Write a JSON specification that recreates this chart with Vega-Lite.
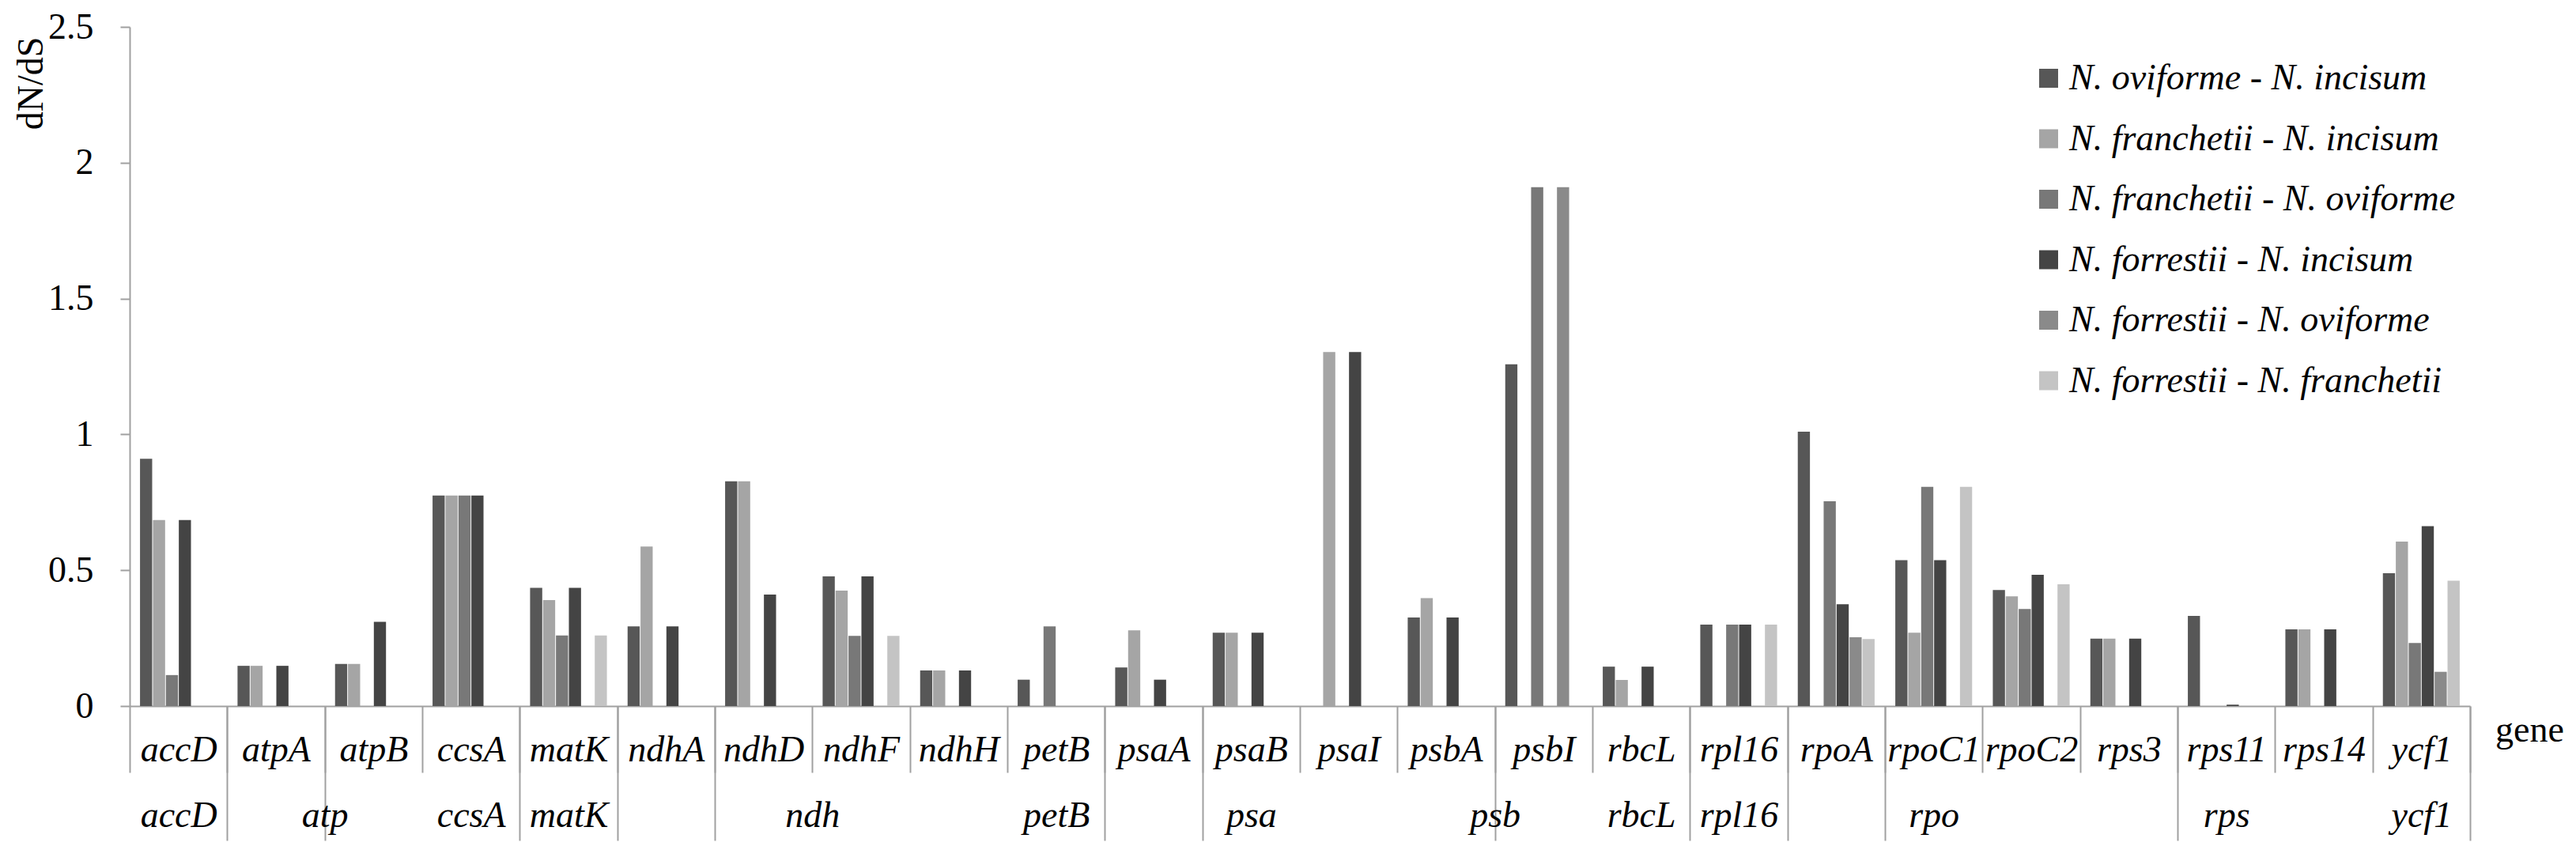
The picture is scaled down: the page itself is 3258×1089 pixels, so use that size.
{
  "$schema": "https://vega.github.io/schema/vega-lite/v6.json",
  "width": 2960,
  "height": 859,
  "autosize": "none",
  "padding": {"left": 164, "top": 34, "right": 134, "bottom": 196},
  "background": "white",
  "config": {"view": {"stroke": null}, "font": "Liberation Serif"},
  "data": {"values": [
    {"gene":"accD","group":"accD","pair":"N. oviforme - N. incisum","dNdS":0.91},
    {"gene":"accD","group":"accD","pair":"N. franchetii - N. incisum","dNdS":0.685},
    {"gene":"accD","group":"accD","pair":"N. franchetii - N. oviforme","dNdS":0.114},
    {"gene":"accD","group":"accD","pair":"N. forrestii - N. incisum","dNdS":0.685},
    {"gene":"atpA","group":"atp","pair":"N. oviforme - N. incisum","dNdS":0.148},
    {"gene":"atpA","group":"atp","pair":"N. franchetii - N. incisum","dNdS":0.148},
    {"gene":"atpA","group":"atp","pair":"N. forrestii - N. incisum","dNdS":0.148},
    {"gene":"atpB","group":"atp","pair":"N. oviforme - N. incisum","dNdS":0.155},
    {"gene":"atpB","group":"atp","pair":"N. franchetii - N. incisum","dNdS":0.155},
    {"gene":"atpB","group":"atp","pair":"N. forrestii - N. incisum","dNdS":0.31},
    {"gene":"ccsA","group":"ccsA","pair":"N. oviforme - N. incisum","dNdS":0.775},
    {"gene":"ccsA","group":"ccsA","pair":"N. franchetii - N. incisum","dNdS":0.775},
    {"gene":"ccsA","group":"ccsA","pair":"N. franchetii - N. oviforme","dNdS":0.775},
    {"gene":"ccsA","group":"ccsA","pair":"N. forrestii - N. incisum","dNdS":0.775},
    {"gene":"matK","group":"matK","pair":"N. oviforme - N. incisum","dNdS":0.435},
    {"gene":"matK","group":"matK","pair":"N. franchetii - N. incisum","dNdS":0.39},
    {"gene":"matK","group":"matK","pair":"N. franchetii - N. oviforme","dNdS":0.26},
    {"gene":"matK","group":"matK","pair":"N. forrestii - N. incisum","dNdS":0.435},
    {"gene":"matK","group":"matK","pair":"N. forrestii - N. franchetii","dNdS":0.26},
    {"gene":"ndhA","group":"ndh","pair":"N. oviforme - N. incisum","dNdS":0.293},
    {"gene":"ndhA","group":"ndh","pair":"N. franchetii - N. incisum","dNdS":0.587},
    {"gene":"ndhA","group":"ndh","pair":"N. forrestii - N. incisum","dNdS":0.293},
    {"gene":"ndhD","group":"ndh","pair":"N. oviforme - N. incisum","dNdS":0.827},
    {"gene":"ndhD","group":"ndh","pair":"N. franchetii - N. incisum","dNdS":0.827},
    {"gene":"ndhD","group":"ndh","pair":"N. forrestii - N. incisum","dNdS":0.41},
    {"gene":"ndhF","group":"ndh","pair":"N. oviforme - N. incisum","dNdS":0.477},
    {"gene":"ndhF","group":"ndh","pair":"N. franchetii - N. incisum","dNdS":0.425},
    {"gene":"ndhF","group":"ndh","pair":"N. franchetii - N. oviforme","dNdS":0.258},
    {"gene":"ndhF","group":"ndh","pair":"N. forrestii - N. incisum","dNdS":0.477},
    {"gene":"ndhF","group":"ndh","pair":"N. forrestii - N. franchetii","dNdS":0.258},
    {"gene":"ndhH","group":"ndh","pair":"N. oviforme - N. incisum","dNdS":0.131},
    {"gene":"ndhH","group":"ndh","pair":"N. franchetii - N. incisum","dNdS":0.131},
    {"gene":"ndhH","group":"ndh","pair":"N. forrestii - N. incisum","dNdS":0.131},
    {"gene":"petB","group":"petB","pair":"N. oviforme - N. incisum","dNdS":0.097},
    {"gene":"petB","group":"petB","pair":"N. franchetii - N. oviforme","dNdS":0.293},
    {"gene":"psaA","group":"psa","pair":"N. oviforme - N. incisum","dNdS":0.142},
    {"gene":"psaA","group":"psa","pair":"N. franchetii - N. incisum","dNdS":0.279},
    {"gene":"psaA","group":"psa","pair":"N. forrestii - N. incisum","dNdS":0.097},
    {"gene":"psaB","group":"psa","pair":"N. oviforme - N. incisum","dNdS":0.27},
    {"gene":"psaB","group":"psa","pair":"N. franchetii - N. incisum","dNdS":0.27},
    {"gene":"psaB","group":"psa","pair":"N. forrestii - N. incisum","dNdS":0.27},
    {"gene":"psaI","group":"psa","pair":"N. franchetii - N. incisum","dNdS":1.303},
    {"gene":"psaI","group":"psa","pair":"N. forrestii - N. incisum","dNdS":1.303},
    {"gene":"psbA","group":"psb","pair":"N. oviforme - N. incisum","dNdS":0.326},
    {"gene":"psbA","group":"psb","pair":"N. franchetii - N. incisum","dNdS":0.397},
    {"gene":"psbA","group":"psb","pair":"N. forrestii - N. incisum","dNdS":0.326},
    {"gene":"psbI","group":"psb","pair":"N. oviforme - N. incisum","dNdS":1.258},
    {"gene":"psbI","group":"psb","pair":"N. franchetii - N. oviforme","dNdS":1.91},
    {"gene":"psbI","group":"psb","pair":"N. forrestii - N. oviforme","dNdS":1.91},
    {"gene":"rbcL","group":"rbcL","pair":"N. oviforme - N. incisum","dNdS":0.145},
    {"gene":"rbcL","group":"rbcL","pair":"N. franchetii - N. incisum","dNdS":0.096},
    {"gene":"rbcL","group":"rbcL","pair":"N. forrestii - N. incisum","dNdS":0.145},
    {"gene":"rpl16","group":"rpl16","pair":"N. oviforme - N. incisum","dNdS":0.3},
    {"gene":"rpl16","group":"rpl16","pair":"N. franchetii - N. oviforme","dNdS":0.3},
    {"gene":"rpl16","group":"rpl16","pair":"N. forrestii - N. incisum","dNdS":0.3},
    {"gene":"rpl16","group":"rpl16","pair":"N. forrestii - N. franchetii","dNdS":0.3},
    {"gene":"rpoA","group":"rpo","pair":"N. oviforme - N. incisum","dNdS":1.01},
    {"gene":"rpoA","group":"rpo","pair":"N. franchetii - N. oviforme","dNdS":0.754},
    {"gene":"rpoA","group":"rpo","pair":"N. forrestii - N. incisum","dNdS":0.375},
    {"gene":"rpoA","group":"rpo","pair":"N. forrestii - N. oviforme","dNdS":0.253},
    {"gene":"rpoA","group":"rpo","pair":"N. forrestii - N. franchetii","dNdS":0.247},
    {"gene":"rpoC1","group":"rpo","pair":"N. oviforme - N. incisum","dNdS":0.537},
    {"gene":"rpoC1","group":"rpo","pair":"N. franchetii - N. incisum","dNdS":0.27},
    {"gene":"rpoC1","group":"rpo","pair":"N. franchetii - N. oviforme","dNdS":0.807},
    {"gene":"rpoC1","group":"rpo","pair":"N. forrestii - N. incisum","dNdS":0.537},
    {"gene":"rpoC1","group":"rpo","pair":"N. forrestii - N. franchetii","dNdS":0.807},
    {"gene":"rpoC2","group":"rpo","pair":"N. oviforme - N. incisum","dNdS":0.427},
    {"gene":"rpoC2","group":"rpo","pair":"N. franchetii - N. incisum","dNdS":0.404},
    {"gene":"rpoC2","group":"rpo","pair":"N. franchetii - N. oviforme","dNdS":0.357},
    {"gene":"rpoC2","group":"rpo","pair":"N. forrestii - N. incisum","dNdS":0.483},
    {"gene":"rpoC2","group":"rpo","pair":"N. forrestii - N. franchetii","dNdS":0.448},
    {"gene":"rps3","group":"rps","pair":"N. oviforme - N. incisum","dNdS":0.248},
    {"gene":"rps3","group":"rps","pair":"N. franchetii - N. incisum","dNdS":0.248},
    {"gene":"rps3","group":"rps","pair":"N. forrestii - N. incisum","dNdS":0.248},
    {"gene":"rps11","group":"rps","pair":"N. oviforme - N. incisum","dNdS":0.332},
    {"gene":"rps11","group":"rps","pair":"N. forrestii - N. incisum","dNdS":0.005},
    {"gene":"rps14","group":"rps","pair":"N. oviforme - N. incisum","dNdS":0.282},
    {"gene":"rps14","group":"rps","pair":"N. franchetii - N. incisum","dNdS":0.282},
    {"gene":"rps14","group":"rps","pair":"N. forrestii - N. incisum","dNdS":0.282},
    {"gene":"ycf1","group":"ycf1","pair":"N. oviforme - N. incisum","dNdS":0.489},
    {"gene":"ycf1","group":"ycf1","pair":"N. franchetii - N. incisum","dNdS":0.605},
    {"gene":"ycf1","group":"ycf1","pair":"N. franchetii - N. oviforme","dNdS":0.232},
    {"gene":"ycf1","group":"ycf1","pair":"N. forrestii - N. incisum","dNdS":0.662},
    {"gene":"ycf1","group":"ycf1","pair":"N. forrestii - N. oviforme","dNdS":0.126},
    {"gene":"ycf1","group":"ycf1","pair":"N. forrestii - N. franchetii","dNdS":0.461}
  ]},
  "layer": [
    {
      "mark": {"type": "bar"},
      "encoding": {
        "x": {
          "field": "gene", "type": "nominal",
          "sort": ["accD","atpA","atpB","ccsA","matK","ndhA","ndhD","ndhF","ndhH","petB","psaA","psaB","psaI","psbA","psbI","rbcL","rpl16","rpoA","rpoC1","rpoC2","rps3","rps11","rps14","ycf1"],
          "scale": {"paddingInner": 0, "paddingOuter": 0},
          "axis": {
            "orient": "bottom",
            "title": "gene",
            "titleFont": "Liberation Serif", "titleFontSize": 46, "titleFontWeight": "normal", "titleColor": "black",
            "titleX": 3035, "titleY": 44, "titleAlign": "center", "titleBaseline": "alphabetic", "titleAngle": 0,
            "grid": false,
            "tickBand": "extent",
            "domainColor": "#a0a0a0", "domainWidth": 2,
            "tickColor": "#a0a0a0", "tickWidth": 2, "tickSize": 84,
            "labelAngle": 0, "labelFont": "Liberation Serif", "labelFontStyle": "italic", "labelFontSize": 46, "labelColor": "black",
            "labelPadding": -15, "labelBaseline": "alphabetic", "labelAlign": "center",
            "labelOverlap": false
          }
        },
        "xOffset": {
          "field": "pair", "type": "nominal",
          "scale": {"domain": ["N. oviforme - N. incisum","N. franchetii - N. incisum","N. franchetii - N. oviforme","N. forrestii - N. incisum","N. forrestii - N. oviforme","N. forrestii - N. franchetii"], "paddingInner": 0.06, "paddingOuter": 0.8}
        },
        "y": {
          "field": "dNdS", "type": "quantitative",
          "scale": {"domain": [0, 2.5], "nice": false},
          "axis": {
            "title": "dN/dS",
            "titleFont": "Liberation Serif", "titleFontSize": 46, "titleFontWeight": "normal", "titleColor": "black",
            "titleX": -111, "titleY": 71, "titleAlign": "center", "titleBaseline": "alphabetic", "titleAngle": 270,
            "values": [0, 0.5, 1, 1.5, 2, 2.5],
            "labelExpr": "datum.value + ''",
            "grid": false,
            "domainColor": "#a0a0a0", "domainWidth": 2,
            "tickColor": "#a0a0a0", "tickWidth": 2, "tickSize": 12,
            "labelFont": "Liberation Serif", "labelFontSize": 46, "labelColor": "black", "labelPadding": 34
          }
        },
        "color": {
          "field": "pair", "type": "nominal",
          "scale": {
            "domain": ["N. oviforme - N. incisum","N. franchetii - N. incisum","N. franchetii - N. oviforme","N. forrestii - N. incisum","N. forrestii - N. oviforme","N. forrestii - N. franchetii"],
            "range": ["#575757","#a5a5a5","#787878","#444444","#8a8a8a","#c4c4c4"]
          },
          "legend": {
            "orient": "none", "legendX": 2404, "legendY": 42,
            "title": null, "padding": 0,
            "symbolType": "square", "symbolSize": 576, "symbolStrokeWidth": 0,
            "labelFont": "Liberation Serif", "labelFontStyle": "italic", "labelFontSize": 46, "labelColor": "black",
            "labelOffset": 3, "rowPadding": 30.5, "labelLimit": 800
          }
        }
      }
    },
    {
      "mark": {"type": "bar", "opacity": 0},
      "encoding": {
        "x": {
          "field": "gene", "type": "nominal",
          "sort": ["accD","atpA","atpB","ccsA","matK","ndhA","ndhD","ndhF","ndhH","petB","psaA","psaB","psaI","psbA","psbI","rbcL","rpl16","rpoA","rpoC1","rpoC2","rps3","rps11","rps14","ycf1"],
          "axis": {
            "orient": "bottom", "title": null, "domain": false, "grid": false,
            "tickBand": "extent",
            "tickColor": "#a0a0a0", "tickWidth": 2, "tickSize": 170,
            "tickOpacity": {"condition": {"test": "indexof(['accD','atpA','ccsA','matK','ndhA','petB','psaA','psbA','rbcL','rpl16','rpoA','rps3','ycf1'], datum.value) >= 0", "value": 1}, "value": 0},
            "labelExpr": "datum.value == 'atpA' ? 'atp' : datum.value == 'ndhD' ? 'ndh' : datum.value == 'psaB' ? 'psa' : datum.value == 'psbA' ? 'psb' : datum.value == 'rpoC1' ? 'rpo' : datum.value == 'rps11' ? 'rps' : indexof(['accD','ccsA','matK','petB','rbcL','rpl16','ycf1'], datum.value) >= 0 ? datum.value : ''",
            "labelOffset": {"condition": {"test": "indexof(['atpA','ndhD','psbA'], datum.value) >= 0", "value": 61.67}, "value": 0},
            "labelAngle": 0, "labelFont": "Liberation Serif", "labelFontStyle": "italic", "labelFontSize": 46, "labelColor": "black",
            "labelPadding": -18, "labelBaseline": "alphabetic", "labelAlign": "center",
            "labelOverlap": false
          }
        }
      }
    }
  ],
  "resolve": {"axis": {"x": "independent"}}
}
